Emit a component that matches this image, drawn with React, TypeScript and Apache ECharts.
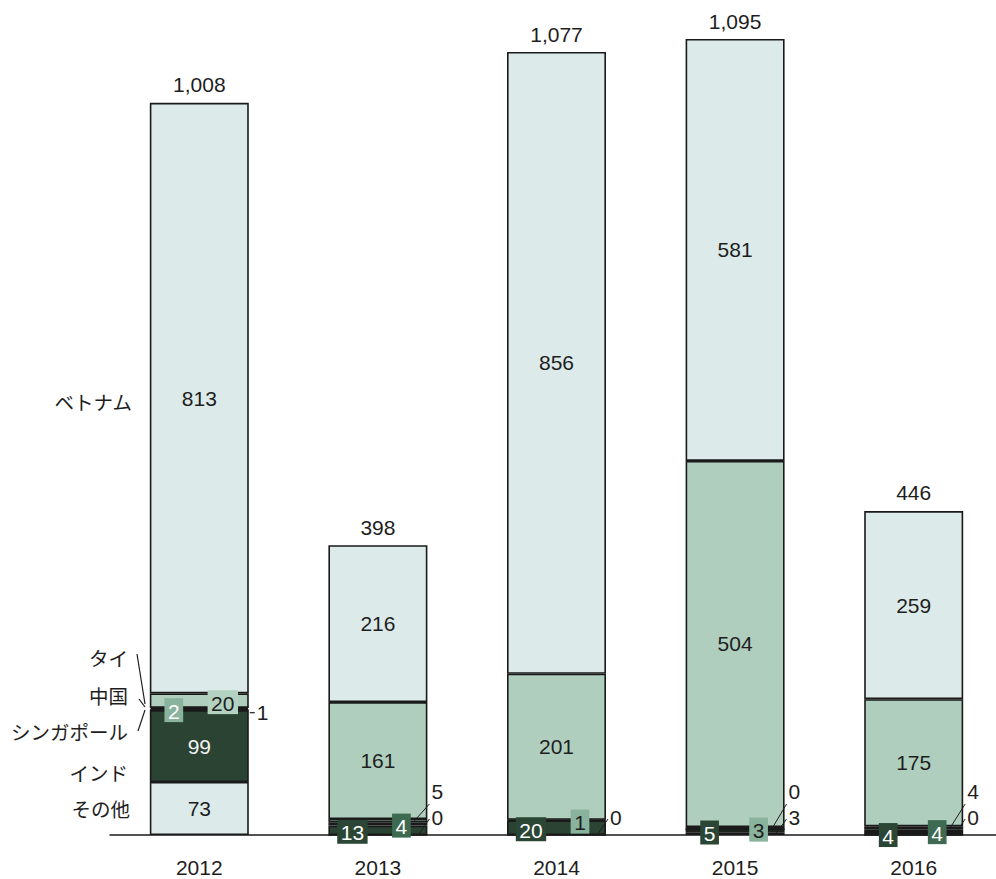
import React, { useEffect, useRef } from 'react';
import * as echarts from 'echarts';

// ---- data ----
const years = ['2012', '2013', '2014', '2015', '2016'];
const others = [73, 0, 0, 3, 0]; // その他
const india = [99, 13, 20, 5, 4]; // インド
const singapore: (number | null)[] = [1, 4, null, 0, 4]; // シンガポール
const china = [2, 5, 1, 3, 4]; // 中国
const thailand = [20, 161, 201, 504, 175]; // タイ
const vietnam = [813, 216, 856, 581, 259]; // ベトナム
const totals = [1008, 398, 1077, 1095, 446];
const countryNames = ['その他', 'インド', 'シンガポール', '中国', 'タイ', 'ベトナム'];

// ---- styles ----
const FONT = "'Liberation Sans', Arial, 'Noto Sans CJK JP', sans-serif";
const JP_FONT = "'Noto Sans CJK JP', 'Liberation Sans', sans-serif";
const INK = '#1e1e1e';
const NUM_SIZE = 21;
const BAR_WIDTH = 99;
const fills = ['#dcebe9', '#2a4332', '#3a654b', '#8db4a0', '#afcebe', '#dcebea'];
const insideInk = [INK, '#f2f2f2', '#ffffff', INK, INK, INK];
const boxFills = ['#dcebe9', '#2b4634', '#3d6a50', '#8ab39e', '#b4d2c2', '#dcebea'];
const boxInk = [
  [INK, INK, INK, INK, INK],
  ['#fff', '#fff', '#fff', '#fff', '#fff'],
  ['#fff', '#fff', '#fff', '#fff', '#fff'],
  ['#fff', INK, INK, INK, INK],
  [INK, INK, INK, INK, INK],
  [INK, INK, INK, INK, INK],
];
const placement = [
  ['in', 'out2', 'out2', 'out2', 'out2'],
  ['in', 'boxL', 'boxL', 'boxL', 'boxL'],
  ['side', 'boxR', 'none', 'out1', 'boxR'],
  ['boxL', 'out1', 'boxR', 'boxR', 'out1'],
  ['boxR', 'in', 'in', 'in', 'in'],
  ['in', 'in', 'in', 'in', 'in'],
];
const MODE: Record<string, number> = { in: 0, boxL: 1, boxR: 2, out1: 3, out2: 4, side: 5, none: 6, total: 7 };

const stackArrays = [others, india, singapore, china, thailand, vietnam];

export default function App() {
  const ref = useRef<HTMLDivElement>(null);

  useEffect(() => {
    if (!ref.current) return;
    const chart = echarts.init(ref.current, undefined, { renderer: 'svg' });

    // label items for the custom label layer
    const labelItems: number[][] = [];
    years.forEach((_, i) => {
      let base = 0;
      stackArrays.forEach((arr, s) => {
        const v = arr[i];
        if (v == null) return;
        const m = placement[s][i];
        if (m !== 'in' && m !== 'none') labelItems.push([i, base, v, MODE[m], s]);
        base += v;
      });
      labelItems.push([i, 0, totals[i], MODE.total, -1]);
    });

    const barSeries = stackArrays.map((arr, s) => ({
      name: countryNames[s],
      type: 'bar',
      stack: 'total',
      barWidth: BAR_WIDTH,
      itemStyle: { color: fills[s], borderColor: '#1a1a1a', borderWidth: 1.6 },
      label: { show: false },
      emphasis: { disabled: true },
      data: arr.map((v, i) =>
        v == null
          ? '-'
          : {
              value: v,
              label:
                placement[s][i] === 'in'
                  ? { show: true, position: 'inside', color: insideInk[s], fontSize: NUM_SIZE, fontFamily: FONT }
                  : { show: false },
            }
      ),
    }));

    const labelSeries = {
      type: 'custom',
      z: 10,
      silent: true,
      data: labelItems,
      encode: { x: 0, y: 2 },
      renderItem: (_params: any, api: any) => {
        const cat = api.value(0) as number;
        const base = api.value(1) as number;
        const v = api.value(2) as number;
        const mode = api.value(3) as number;
        const s = api.value(4) as number;
        const midPt = api.coord([cat, base + v / 2]);
        const basePt = api.coord([cat, 0]);
        const cx = midPt[0];
        const rightX = cx + BAR_WIDTH / 2;
        const txt = String(v);
        const textStyle = { fontSize: NUM_SIZE, fontFamily: FONT };
        if (mode === MODE.total) {
          const top = api.coord([cat, v]);
          return {
            type: 'text',
            style: {
              text: v.toLocaleString('en-US'),
              x: cx,
              y: top[1] - 8,
              align: 'center',
              verticalAlign: 'bottom',
              fill: INK,
              ...textStyle,
            },
          };
        }
        if (mode === MODE.boxL || mode === MODE.boxR) {
          const w = txt.length * 11.7 + 7;
          const h = 24;
          const bx = cx + (mode === MODE.boxL ? -25.5 : 23.5);
          const by = midPt[1] + 1.5;
          return {
            type: 'group',
            children: [
              { type: 'rect', shape: { x: bx - w / 2, y: by - h / 2, width: w, height: h }, style: { fill: boxFills[s] } },
              {
                type: 'text',
                style: { text: txt, x: bx, y: by + 1, align: 'center', verticalAlign: 'middle', fill: boxInk[s][cat], ...textStyle },
              },
            ],
          };
        }
        if (mode === MODE.out1 || mode === MODE.out2) {
          const ly = basePt[1] + (mode === MODE.out1 ? -43.5 : -18);
          const lineTop = basePt[1] + (mode === MODE.out1 ? -31 : -16);
          const lineBottomX = rightX - (mode === MODE.out1 ? 13 : 9);
          return {
            type: 'group',
            children: [
              {
                type: 'line',
                shape: { x1: rightX + 2, y1: lineTop, x2: lineBottomX, y2: midPt[1] },
                style: { stroke: INK, lineWidth: 1 },
              },
              {
                type: 'text',
                style: { text: txt, x: rightX + 4, y: ly, align: 'left', verticalAlign: 'middle', fill: INK, ...textStyle },
              },
            ],
          };
        }
        if (mode === MODE.side) {
          const y = midPt[1] + 3;
          return {
            type: 'group',
            children: [
              { type: 'line', shape: { x1: rightX + 1, y1: y, x2: rightX + 6, y2: y }, style: { stroke: INK, lineWidth: 1.2 } },
              {
                type: 'text',
                style: { text: txt, x: rightX + 8, y, align: 'left', verticalAlign: 'middle', fill: INK, ...textStyle },
              },
            ],
          };
        }
        return null;
      },
    };

    const legendText = (text: string, x: number, y: number) => ({
      type: 'text',
      x,
      y,
      silent: true,
      style: {
        text,
        align: 'right',
        verticalAlign: 'middle',
        textAlign: 'right',
        textVerticalAlign: 'middle',
        fontSize: 19.5,
        fontFamily: JP_FONT,
        fill: INK,
      },
    });
    const bracket = (x1: number, y1: number, x2: number, y2: number) => ({
      type: 'line',
      silent: true,
      shape: { x1, y1, x2, y2 },
      style: { stroke: INK, lineWidth: 1.2 },
    });

    chart.setOption({
      animation: false,
      backgroundColor: '#ffffff',
      textStyle: { fontFamily: FONT },
      grid: { left: 110, right: 0, top: 36, bottom: 44 },
      xAxis: {
        type: 'category',
        data: years,
        axisLine: { lineStyle: { color: '#1a1a1a', width: 1.5 } },
        axisTick: { show: false },
        axisLabel: { fontSize: NUM_SIZE, color: INK, margin: 22, fontFamily: FONT },
      },
      yAxis: { type: 'value', min: 0, max: 1100, show: false, splitLine: { show: false } },
      series: [...barSeries, labelSeries],
      graphic: [
        legendText('ベトナム', 132, 401),
        legendText('タイ', 128, 657),
        legendText('中国', 128, 695),
        legendText('シンガポール', 128, 731),
        legendText('インド', 128, 772),
        legendText('その他', 130, 808),
        bracket(137, 654, 145, 704),
        bracket(139, 699, 145, 707),
        bracket(138, 731, 145, 710),
      ],
    });

    return () => chart.dispose();
  }, []);

  return (
    <div
      ref={ref}
      style={{ position: 'fixed', left: 0, top: 0, width: 1003, height: 879, background: '#fff' }}
    />
  );
}
